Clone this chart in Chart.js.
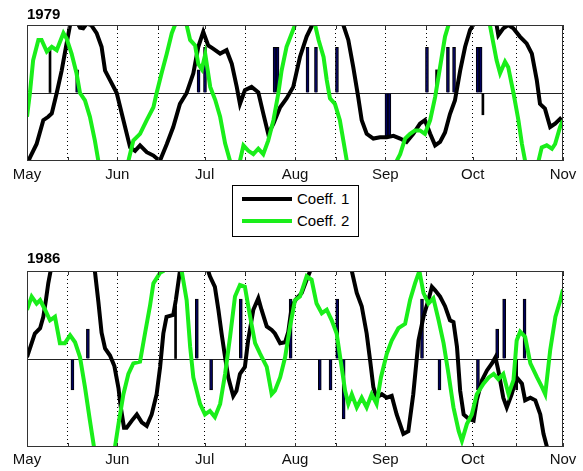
<!DOCTYPE html>
<html>
<head>
<meta charset="utf-8">
<script src="https://cdn.jsdelivr.net/npm/chart.js@4.4.1/dist/chart.umd.min.js"></script>
<style>
  body { margin: 0; background: #fff; width: 583px; height: 471px; position: relative; overflow: hidden;
         font-family: "Liberation Sans", Arial, sans-serif; }
  canvas { position: absolute; left: 0; }
  #c79 { top: 0; }
  #c86 { top: 240px; }
  #legend { position: absolute; left: 232px; top: 185px; width: 125px; height: 50px;
            border: 1px solid #000; background: #fff; }
  #legend .row { position: absolute; left: 0; height: 18px; }
  #legend .swatch { position: absolute; left: 9px; top: 7px; width: 50px; height: 4px; }
  #legend .txt { position: absolute; left: 64px; top: 0; font-size: 15px; line-height: 18px; white-space: nowrap; color: #000; }
</style>
</head>
<body>
<canvas id="c79" width="583" height="189"></canvas>
<div id="legend">
  <div class="row" style="top:4px"><div class="swatch" style="background:#000"></div><div class="txt">Coeff. 1</div></div>
  <div class="row" style="top:26px"><div class="swatch" style="background:#1aee1a"></div><div class="txt">Coeff. 2</div></div>
</div>
<canvas id="c86" width="583" height="233"></canvas>
<script>
// x = days since 1 May, y = coefficient (plot range -1..1)
const monthNames = ['May', 'Jun', 'Jul', 'Aug', 'Sep', 'Oct', 'Nov'];
const monthStarts = [0, 31, 61, 92, 123, 153, 184];
const midMonths = [14, 45, 75, 106, 137, 168];

const coef1_1979 = [[0,-1.05],[1,-0.95],[3.3,-0.75],[5.6,-0.40],[7.3,-0.35],[8.5,-0.30],[10.2,0],[11.9,0.33],[13.6,0.73],[14.8,1.0],[16.5,1.1],[18.2,0.96],[19.3,0.95],[20.5,1.02],[22,1.0],[23.9,0.88],[25.6,0.68],[26.8,0.33],[28.5,0.19],[30.8,0],[33.1,-0.40],[35.4,-0.80],[37.1,-0.85],[38.8,-0.77],[41.1,-0.87],[43.4,-0.92],[45.6,-1.0],[48,-0.75],[50.2,-0.50],[52.5,-0.16],[54.8,0],[57.1,0.29],[58.8,0.68],[60.5,0.90],[62.2,0.70],[64,0.65],[66.3,0.58],[68.5,0.63],[70.3,0.43],[72,0.09],[73.1,-0.16],[74.8,0.04],[77.1,0.09],[79.4,0.01],[81.1,-0.30],[82.8,-0.60],[84.6,-0.45],[86.9,-0.21],[89.1,-0.08],[91.4,0.09],[93.7,0.53],[96,0.83],[97.7,0.98],[99,1.05],[103,1.3],[108.6,1.0],[110.3,0.78],[112,0.38],[113.7,-0.06],[114.9,-0.40],[116.6,-0.60],[118.9,-0.67],[121.2,-0.65],[123.5,-0.65],[125.8,-0.63],[128.1,-0.67],[130.3,-0.72],[132.6,-0.60],[134.9,-0.45],[136.6,-0.40],[138.4,-0.60],[140.1,-0.77],[141.8,-0.72],[143.5,-0.58],[145.2,-0.31],[146.9,-0.11],[148.7,0.33],[150.4,0.68],[152.1,0.93],[153.2,1.0],[157,1.25],[161.2,1.0],[161.8,0.85],[163.5,0.95],[165.2,1.0],[167,0.95],[169.2,0.83],[171.5,0.73],[173.3,0.58],[175,0.19],[176.1,-0.16],[177.8,-0.23],[179.6,-0.50],[181.3,-0.45],[183,-0.38],[184,-0.43]];
const coef2_1979 = [[0,-0.35],[1,0],[2.1,0.48],[3.9,0.78],[5,0.78],[6.8,0.61],[8.5,0.68],[10.2,0.63],[11.3,0.75],[12.5,0.88],[13.6,0.80],[15.3,0.58],[17,0.29],[18.2,0],[19.9,-0.11],[21.6,-0.35],[23.3,-0.70],[24.5,-1.0],[29,-1.4],[34.8,-1.0],[36.5,-0.70],[38.8,-0.60],[41.1,-0.40],[43.4,-0.21],[44.5,0],[46.2,0.29],[48,0.58],[49.7,0.88],[50.8,1.0],[52.8,1.15],[54.8,1.0],[56,0.78],[57.7,0.70],[58.8,0.43],[60,0.35],[61.2,0.57],[62.9,0.09],[64.6,-0.10],[66.3,-0.35],[68,-0.74],[69.7,-1.0],[71.5,-1.15],[73.1,-1.0],[74.3,-0.77],[76,-0.85],[77.7,-0.90],[79.4,-0.82],[81.1,-0.90],[82.8,-0.70],[84.6,-0.40],[86.3,0],[87.4,0.33],[89.1,0.68],[90.9,0.88],[92,1.0],[95.5,1.3],[98.9,1.0],[100.1,0.78],[101.8,0.53],[102.9,0.19],[104,-0.08],[105.7,-0.16],[107.4,-0.40],[108.6,-0.70],[109.8,-1.0],[118,-1.5],[126.9,-1.0],[128.1,-0.90],[129.8,-0.67],[131.5,-0.60],[133.2,-0.55],[134.9,-0.55],[136.6,-0.60],[138.4,-0.40],[140.1,-0.06],[141.8,0.38],[143.5,0.83],[144.7,1.0],[151,1.4],[158.9,1.0],[160.1,0.73],[161.2,0.48],[162.4,0.29],[164.1,0.46],[165.2,0.38],[167,0],[168.7,-0.40],[169.9,-0.75],[171,-1.0],[173.3,-1.15],[175.6,-1.0],[176.7,-0.80],[178.4,-0.77],[180.2,-0.82],[181.3,-0.75],[183,-0.50],[184,-0.40]];
const bars_1979 = [[17.2,0.34],[58.9,0.34],[61.1,0.67],[85,0.67],[86,0.67],[96.3,0.67],[99.2,0.67],[106.4,0.67],[123.4,-0.65],[124.4,-0.65],[137.3,0.67],[144.5,0.67],[146.6,0.67],[154.7,0.67],[155.7,0.67]];
const thinBars_1979 = [[7.9,0.67],[140.6,0.34],[156.5,-0.32]];

const coef1_1986 = [[0,0.02],[1.6,0.18],[2.7,0.29],[4.5,0.35],[5.6,0.48],[6.5,0.67],[7.3,0.86],[8.1,1.0],[11,1.15],[13.8,1.03],[17,1.3],[23.3,1.0],[24.5,0.65],[25.6,0.30],[26.8,0.12],[28.5,0.04],[30,-0.08],[31.4,-0.33],[32.2,-0.55],[33.3,-0.78],[34.2,-0.78],[36,-0.70],[37.7,-0.63],[39.4,-0.72],[41.1,-0.76],[42.8,-0.63],[44.5,-0.40],[45.7,-0.09],[46.8,0.29],[47.9,0.48],[50.2,0.50],[51.1,0.67],[52.5,1.0],[57,1.4],[62.2,1.0],[62.8,0.94],[64.5,0.82],[65.7,0.56],[66.8,0.29],[68,0.02],[69.1,-0.21],[70.8,-0.42],[71.9,-0.36],[73.1,-0.17],[74.8,-0.09],[75.9,0.21],[77.7,0.56],[79.4,0.69],[80.5,0.56],[82.3,0.37],[84,0.33],[85.1,0.29],[86.9,0.18],[88.6,0.19],[89.7,0.31],[90.9,0.60],[92.6,0.69],[94.3,0.75],[96,0.90],[97.2,1.0],[104,1.5],[111.5,1.0],[113.2,0.75],[114.9,0.60],[116.6,0.29],[117.8,-0.02],[118.9,-0.32],[120,-0.44],[121.8,-0.40],[123.5,-0.44],[125.2,-0.42],[126.9,-0.63],[129.2,-0.85],[130.9,-0.82],[132.6,-0.40],[134.4,0.21],[136.1,0.48],[137.8,0.67],[139,0.82],[140.1,0.78],[141.8,0.71],[143.5,0.60],[145.2,0.44],[146.4,0.42],[147.6,0.14],[148.7,-0.36],[149.9,-0.63],[151.6,-0.68],[153.3,-0.70],[154.4,-0.47],[156.2,-0.24],[157.9,-0.13],[159.6,-0.05],[160.8,0.02],[161.8,-0.13],[163.5,-0.44],[164.7,-0.55],[166.4,-0.40],[168.1,-0.21],[169.9,-0.28],[171,-0.47],[172.8,-0.44],[174.5,-0.47],[176.2,-0.63],[177.3,-0.85],[178.5,-1.0],[184,-1.4]];
const coef2_1986 = [[0,0.56],[1.6,0.71],[3.3,0.63],[4.5,0.67],[6.2,0.56],[7.9,0.44],[9.6,0.48],[11.3,0.18],[13,0.18],[14.8,0.27],[16.5,0.19],[18.2,0.02],[19.9,-0.32],[21.6,-0.70],[23,-1.0],[26.5,-1.35],[30.2,-1.0],[31.4,-0.74],[33.1,-0.40],[34.8,-0.17],[36.5,-0.05],[38.8,-0.03],[40.5,0.29],[42.2,0.60],[43.4,0.86],[45.7,0.98],[46.8,1.0],[50,1.2],[53.1,1.0],[54.8,0.67],[56,0.14],[57.1,-0.21],[59.4,-0.51],[61.1,-0.63],[62.8,-0.59],[64.5,-0.66],[66.3,-0.51],[68,-0.17],[69.7,0.25],[71.4,0.71],[73.1,0.84],[74.8,0.82],[76.6,0.48],[78.3,0.18],[80,0.06],[82.3,-0.09],[84,-0.40],[85.1,-0.36],[86.9,-0.21],[88.6,0.02],[90.3,0.37],[92,0.67],[93.7,0.71],[96,0.94],[97.7,0.90],[99.4,0.63],[101.2,0.52],[102.9,0.56],[104.6,0.44],[106.3,0.29],[108,-0.09],[109.2,-0.36],[110.3,-0.51],[111.5,-0.40],[113.2,-0.55],[114.9,-0.44],[116.6,-0.55],[118.3,-0.40],[120,-0.51],[121.5,-0.21],[123.5,0.06],[125.2,0.21],[127.5,0.35],[129.8,0.40],[131.5,0.67],[133.2,0.86],[134.7,1.0],[136.1,0.75],[137.8,0.63],[139.5,0.69],[141.3,0.44],[143,0.18],[144.7,-0.17],[146.4,-0.55],[148.2,-0.82],[149.3,-0.93],[151,-0.74],[152.7,-0.63],[154.4,-0.40],[156.7,-0.28],[158.5,-0.21],[160.2,-0.17],[161.8,-0.23],[163.5,-0.17],[165.3,-0.40],[167,-0.24],[168.1,0.21],[169.3,0.31],[171,0.25],[172.8,-0.05],[175.1,-0.21],[176.8,-0.32],[177.9,-0.40],[179.6,0.10],[181.4,0.48],[183.1,0.67],[184,0.79]];
const bars_1986 = [[15.6,-0.35],[20.9,0.34],[58.3,0.68],[63.2,-0.35],[73.4,0.68],[90.5,0.68],[100.5,-0.35],[104.2,-0.35],[106.5,0.68],[108.7,-0.68],[135.6,0.68],[141.6,-0.35],[154.8,-0.35],[161.4,0.34],[163.8,0.68],[170.8,0.68]];
const thinBars_1986 = [[51,0.6],[168.1,-0.35]];

const FONT = '"Liberation Sans", Arial, sans-serif';
const GREEN = '#1aee1a';
const NAVY = '#00005c';

const pts = arr => arr.map(([x, y]) => ({ x, y }));

// plot box and inward tick marks
const frame = {
  id: 'frame',
  afterDatasetsDraw(chart) {
    const { ctx, chartArea: a, scales: { x } } = chart;
    ctx.save();
    ctx.strokeStyle = '#333';
    ctx.lineWidth = 1;
    ctx.strokeRect(a.left + 0.5, a.top + 0.5, a.right - a.left - 1, a.bottom - a.top - 1);
    ctx.beginPath();
    x.ticks.forEach(t => {
      const px = Math.round(x.getPixelForValue(t.value)) + 0.5;
      ctx.moveTo(px, a.bottom); ctx.lineTo(px, a.bottom - 4);
      ctx.moveTo(px, a.top); ctx.lineTo(px, a.top + 4);
    });
    ctx.stroke();
    ctx.restore();
  }
};

function makeChart(id, title, c1, c2, bars, thin, titlePad, tickPad) {
  return new Chart(document.getElementById(id), {
    type: 'line',
    data: {
      datasets: [
        { label: 'Coeff. 2', data: pts(c2), borderColor: GREEN, borderWidth: 4, pointRadius: 0, tension: 0, clip: 0, order: 0 },
        { label: 'Coeff. 1', data: pts(c1), borderColor: '#000', borderWidth: 4, pointRadius: 0, tension: 0, clip: 0, order: 1 },
        { type: 'bar', data: pts(bars), backgroundColor: NAVY, borderColor: '#000', borderWidth: 1, barThickness: 3, stack: 'b', order: 2 },
        { type: 'bar', data: pts(thin), backgroundColor: '#000', borderWidth: 0, barThickness: 2, stack: 'b', order: 2 }
      ]
    },
    options: {
      responsive: false,
      animation: false,
      layout: { padding: { left: 27, right: 20, top: 0, bottom: 0 } },
      plugins: {
        legend: { display: false },
        tooltip: { enabled: false },
        title: {
          display: true, text: title, align: 'start', color: '#000',
          font: { family: FONT, size: 15, weight: 'bold' },
          padding: { top: titlePad[0], bottom: titlePad[1] }
        }
      },
      scales: {
        x: {
          type: 'linear', min: 0, max: 184, offset: false,
          grid: { color: '#000', lineWidth: 1, drawTicks: false, offset: false },
          border: { display: false, dash: [1, 3] },
          afterBuildTicks: s => {
            s.ticks = monthStarts.concat(midMonths).sort((a, b) => a - b).map(v => ({ value: v }));
          },
          ticks: {
            autoSkip: false, maxRotation: 0, padding: tickPad, color: '#111',
            font: { family: FONT, size: 15 },
            callback: v => {
              const i = monthStarts.indexOf(v);
              return i >= 0 ? monthNames[i] : '';
            }
          }
        },
        y: {
          min: -1, max: 1, stacked: false,
          afterBuildTicks: s => { s.ticks = [{ value: 0 }]; },
          ticks: { display: false },
          grid: { color: '#222', lineWidth: 1, drawTicks: false },
          border: { display: false }
        }
      }
    },
    plugins: [frame]
  });
}

makeChart('c79', '1979', coef1_1979, coef2_1979, bars_1979, thinBars_1979, [6, 1], 5);
makeChart('c86', '1986', coef1_1986, coef2_1986, bars_1986, thinBars_1986, [10, 3], 4);
</script>
</body>
</html>
